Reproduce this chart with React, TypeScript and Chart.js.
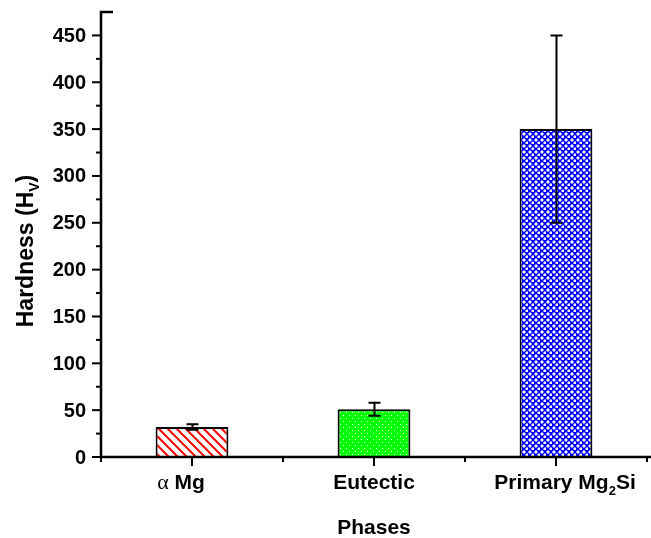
import React, { useEffect, useRef } from 'react';
import { Chart, registerables } from 'chart.js';

Chart.register(...registerables);

// Micro-hardness of each phase
const phases: string[] = ['α Mg', 'Eutectic', 'Primary Mg₂Si'];
const hardness: number[] = [32, 51, 350];
const hardnessError: number[] = [3, 7, 100];

// Axis ticks
const yMajorTicks: number[] = [0, 50, 100, 150, 200, 250, 300, 350, 400, 450];
const yMinorTicks: number[] = [25, 75, 125, 175, 225, 275, 325, 375, 425];
const yMin = 0;
const yMax = 475;

const xTitle = 'Phases';
const yTitle = 'Hardness (Hᵥ)';

const SANS = '"Liberation Sans", Arial, Helvetica, sans-serif';
const SERIF = '"Liberation Serif", "Times New Roman", serif';
const SUBSCRIPTS: Record<string, string> = { '₂': '2', 'ᵥ': 'V' };

// small horizontal nudges for the category labels
const labelNudge = [-11, 0, 9];

function makeTile(size: number, paint: (c: CanvasRenderingContext2D) => void): HTMLCanvasElement {
  const cv = document.createElement('canvas');
  cv.width = size;
  cv.height = size;
  const c = cv.getContext('2d')!;
  paint(c);
  return cv;
}

function hatchPattern(ctx: CanvasRenderingContext2D): CanvasPattern {
  const s = 9;
  const tile = makeTile(s, (c) => {
    c.fillStyle = '#ffffff';
    c.fillRect(0, 0, s, s);
    c.strokeStyle = '#ff0000';
    c.lineWidth = 2;
    c.beginPath();
    c.moveTo(-2, -2);
    c.lineTo(s + 2, s + 2);
    c.moveTo(-2, s - 2);
    c.lineTo(2, s + 2);
    c.moveTo(s - 2, -2);
    c.lineTo(s + 2, 2);
    c.stroke();
  });
  return ctx.createPattern(tile, 'repeat')!;
}

function dotPattern(ctx: CanvasRenderingContext2D, bg: string, s: number, dot: number, plus: boolean): CanvasPattern {
  const tile = makeTile(s, (c) => {
    c.fillStyle = bg;
    c.fillRect(0, 0, s, s);
    c.fillStyle = '#ffffff';
    const h = s / 2;
    const pts = [
      [1, 1],
      [1 + h, 1 + h],
    ];
    for (const [x, y] of pts) {
      c.fillRect(x, y, dot, dot);
      if (plus) {
        c.fillRect(x - 1, y + dot / 2 - 0.5, dot + 2, 1);
        c.fillRect(x + dot / 2 - 0.5, y - 1, 1, dot + 2);
      }
    }
  });
  return ctx.createPattern(tile, 'repeat')!;
}

type Run = { text: string; font: string; dy: number };

function toRuns(text: string, size: number): Run[] {
  const runs: Run[] = [];
  for (const ch of text) {
    let font = `bold ${size}px ${SANS}`;
    let t = ch;
    let dy = 0;
    if (ch === 'α') {
      font = `${size + 1}px ${SERIF}`;
    } else if (SUBSCRIPTS[ch]) {
      t = SUBSCRIPTS[ch];
      font = `bold ${Math.round(size * 0.62)}px ${SANS}`;
      dy = size * 0.28;
    }
    const last = runs[runs.length - 1];
    if (last && last.font === font && last.dy === dy) last.text += t;
    else runs.push({ text: t, font, dy });
  }
  return runs;
}

function drawRich(ctx: CanvasRenderingContext2D, text: string, cx: number, baseline: number, size: number) {
  const runs = toRuns(text, size);
  let w = 0;
  for (const r of runs) {
    ctx.font = r.font;
    w += ctx.measureText(r.text).width;
  }
  let x = cx - w / 2;
  ctx.textAlign = 'left';
  ctx.textBaseline = 'alphabetic';
  for (const r of runs) {
    ctx.font = r.font;
    ctx.fillText(r.text, x, baseline + r.dy);
    x += ctx.measureText(r.text).width;
  }
}

const axesPlugin = {
  id: 'originAxes',
  afterDatasetsDraw(chart: any) {
    const ctx: CanvasRenderingContext2D = chart.ctx;
    const xs = chart.scales.x;
    const ys = chart.scales.y;
    const area = chart.chartArea;
    ctx.save();
    ctx.fillStyle = '#000';
    ctx.strokeStyle = '#000';

    // error bars
    ctx.lineWidth = 2;
    hardness.forEach((v, i) => {
      const x = Math.round(xs.getPixelForValue(i)) + 0.5;
      const yt = ys.getPixelForValue(v + hardnessError[i]);
      const yb = ys.getPixelForValue(v - hardnessError[i]);
      ctx.beginPath();
      ctx.moveTo(x, yt);
      ctx.lineTo(x, yb);
      ctx.moveTo(x - 6, yt);
      ctx.lineTo(x + 6, yt);
      ctx.moveTo(x - 6, yb);
      ctx.lineTo(x + 6, yb);
      ctx.stroke();
    });

    // axis lines
    ctx.lineWidth = 2.5;
    const x0 = area.left;
    const y0 = area.bottom;
    ctx.beginPath();
    ctx.moveTo(x0, area.top);
    ctx.lineTo(x0, y0);
    ctx.moveTo(x0 - 1.25, y0);
    ctx.lineTo(chart.width, y0);
    ctx.moveTo(x0 - 1.25, area.top);
    ctx.lineTo(x0 + 12, area.top);
    ctx.stroke();

    // y ticks
    ctx.lineWidth = 2;
    for (const t of yMajorTicks) {
      const y = ys.getPixelForValue(t);
      ctx.beginPath();
      ctx.moveTo(x0 - 9, y);
      ctx.lineTo(x0, y);
      ctx.stroke();
    }
    for (const t of yMinorTicks) {
      const y = ys.getPixelForValue(t);
      ctx.beginPath();
      ctx.moveTo(x0 - 5, y);
      ctx.lineTo(x0, y);
      ctx.stroke();
    }
    ctx.font = `bold 20px ${SANS}`;
    ctx.textAlign = 'right';
    ctx.textBaseline = 'middle';
    for (const t of yMajorTicks) {
      ctx.fillText(String(t), x0 - 15, ys.getPixelForValue(t) + 1);
    }

    // x ticks: major at categories, minor at category boundaries
    const n = phases.length;
    for (let i = 0; i < n; i++) {
      const x = xs.getPixelForValue(i);
      ctx.beginPath();
      ctx.moveTo(x, y0);
      ctx.lineTo(x, y0 + 9);
      ctx.stroke();
    }
    for (let i = 0; i <= n; i++) {
      const x = xs.getPixelForValue(i - 0.5);
      ctx.beginPath();
      ctx.moveTo(x, y0);
      ctx.lineTo(x, y0 + 5);
      ctx.stroke();
    }
    phases.forEach((p, i) => {
      drawRich(ctx, p, xs.getPixelForValue(i) + labelNudge[i], y0 + 32, 21);
    });

    // axis titles
    drawRich(ctx, xTitle, (area.left + area.right) / 2, y0 + 77, 21);
    ctx.save();
    ctx.translate(33, 251);
    ctx.rotate(-Math.PI / 2);
    drawRich(ctx, yTitle, 0, 0, 23);
    ctx.restore();

    ctx.restore();
  },
};

export default function App() {
  const canvasRef = useRef<HTMLCanvasElement | null>(null);

  useEffect(() => {
    const canvas = canvasRef.current!;
    const ctx = canvas.getContext('2d')!;
    const fills = [
      hatchPattern(ctx),
      dotPattern(ctx, '#00ff00', 6, 1, false),
      dotPattern(ctx, '#0000ff', 6, 2, true),
    ];
    const chart = new Chart(canvas, {
      type: 'bar',
      data: {
        labels: phases,
        datasets: [
          {
            label: yTitle,
            data: hardness,
            backgroundColor: fills as any,
            borderColor: '#000000',
            borderWidth: 2,
            barPercentage: 0.4,
            categoryPercentage: 1,
          },
        ],
      },
      options: {
        responsive: false,
        animation: false,
        devicePixelRatio: 1,
        layout: { padding: { left: 101, right: 4, top: 12, bottom: 81 } },
        plugins: { legend: { display: false }, tooltip: { enabled: false } },
        scales: {
          x: { display: false, offset: true },
          y: { display: false, min: yMin, max: yMax },
        },
      },
      plugins: [axesPlugin],
    });
    return () => chart.destroy();
  }, []);

  return (
    <div style={{ position: 'fixed', left: 0, top: 0, width: 651, height: 538, background: '#ffffff' }}>
      <canvas ref={canvasRef} width={651} height={538} style={{ display: 'block' }} />
    </div>
  );
}
